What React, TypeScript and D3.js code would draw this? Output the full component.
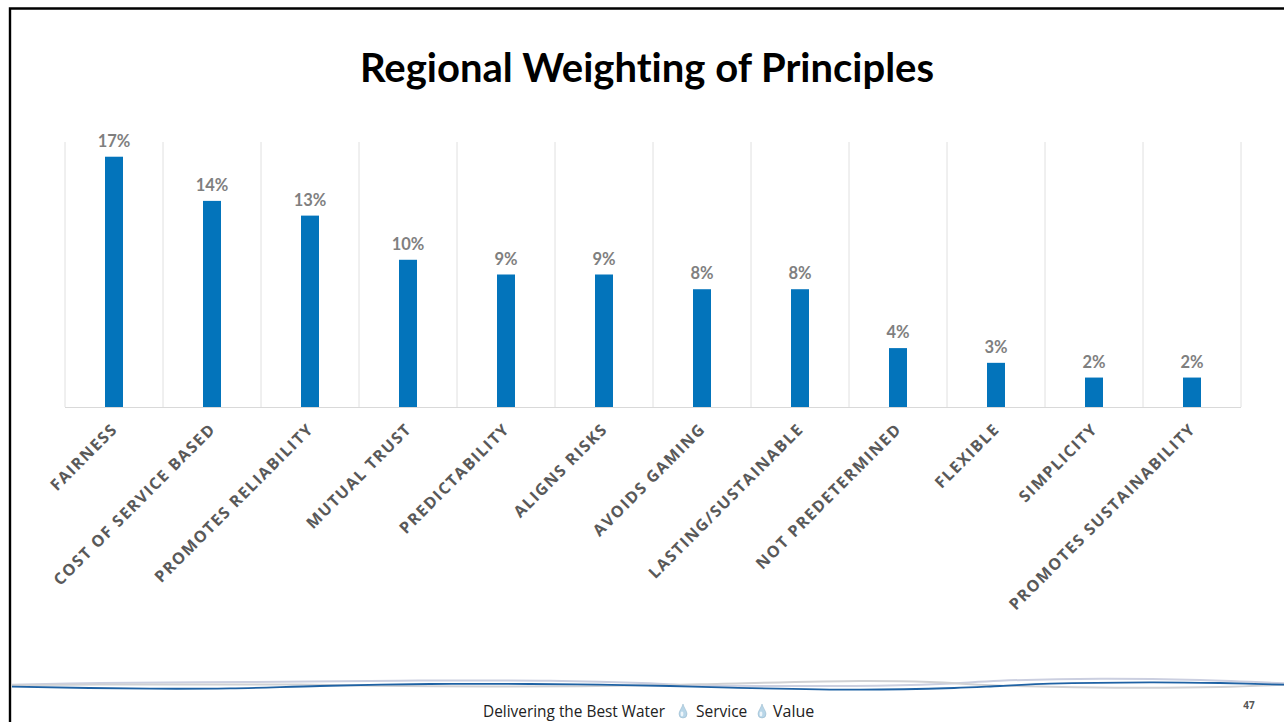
import React from "react";
import * as d3 from "d3";

const categories = ["FAIRNESS","COST OF SERVICE BASED","PROMOTES RELIABILITY","MUTUAL TRUST","PREDICTABILITY","ALIGNS RISKS","AVOIDS GAMING","LASTING/SUSTAINABLE","NOT PREDETERMINED","FLEXIBLE","SIMPLICITY","PROMOTES SUSTAINABILITY"];
const values = [17,14,13,10,9,9,8,8,4,3,2,2];
const waveBlue: [number, number][] = [[12,686.7],[150,688.7],[230,688.4],[320,686],[430,684],[530,684],[600,684.7],[670,686],[730,687.7],[860,689.7],[954,688],[1000,686],[1050,683.7],[1150,682.3],[1220,683],[1284,684.7]];
const waveUpper: [number, number][] = [[12,684.7],[100,683],[250,682],[400,680.7],[550,680.7],[650,683.3],[690,685.3],[800,686],[854,686],[940,684],[1000,680.7],[1100,678.7],[1200,680],[1284,683.3]];
const waveLower: [number, number][] = [[12,685],[100,684.6],[300,684.6],[430,686.3],[580,686.3],[650,685.3],[700,684.3],[860,681],[930,682],[990,685.3],[1050,686.7],[1130,687.7],[1220,687],[1284,684.7]];

const W = 1284, H = 722;
const x = d3.scaleBand<string>().domain(categories).range([65, 1241]);
const y = d3.scaleLinear().domain([0, 18]).range([407, 142]);
const curve = d3.line().curve(d3.curveCatmullRom);
const label = "Lato, 'Open Sans', sans-serif";

function Drop({ cx, cy }: { cx: number; cy: number }) {
  return (
    <g>
      <path
        d={`M${cx} ${cy - 7} C${cx + 1} ${cy - 3} ${cx + 4} ${cy} ${cx + 4} ${cy + 3} A4 4 0 0 1 ${cx - 4} ${cy + 3} C${cx - 4} ${cy} ${cx - 1} ${cy - 3} ${cx} ${cy - 7}Z`}
        fill="#b9d6e8"
        stroke="#8fb2c8"
        strokeWidth={0.5}
      />
      <ellipse cx={cx - 1} cy={cy + 3} rx={1.4} ry={2.4} fill="#eef6fb" />
    </g>
  );
}

export default function App() {
  return (
    <svg width={W} height={H} viewBox={`0 0 ${W} ${H}`} style={{ position: "absolute", left: 0, top: 0, background: "#fff" }}>
      <path d={`M10 ${H}V8.5H${W}`} fill="none" stroke="#000" strokeWidth={2.4} />
      <text x={647} y={82} textAnchor="middle" fontFamily={label} fontWeight={700} fontSize={40} fill="#000" style={{ fontVariantLigatures: "none" }}>Regional Weighting of Principles</text>

      {[...categories.map(c => x(c)!), 1241].map((gx, i) => (
        <line key={i} x1={gx} x2={gx} y1={142} y2={407} stroke="#e0e0e0" strokeWidth={1} />
      ))}
      <line x1={65} x2={1241} y1={407.5} y2={407.5} stroke="#d9d9d9" strokeWidth={1} />

      {categories.map((c, i) => {
        const cx = x(c)! + x.bandwidth() / 2;
        return (
          <g key={c}>
            <rect x={cx - 9} width={18} y={y(values[i])} height={407 - y(values[i])} fill="#0374bb" />
            <text x={cx} y={y(values[i]) - 10} textAnchor="middle" fontFamily={label} fontWeight={700} fontSize={16.5} fill="#7f7f7f">{values[i]}%</text>
            <text
              transform={`translate(${cx - 5},${420.5}) rotate(-45)`}
              textAnchor="end"
              dominantBaseline="hanging"
              fontFamily="'Open Sans', sans-serif"
              fontWeight={700}
              fontSize={16}
              letterSpacing={1.5}
              fill="#595959"
            >{c}</text>
          </g>
        );
      })}

      <path d={curve(waveUpper)!} fill="none" stroke="#cbcfe0" strokeWidth={2} />
      <path d={curve(waveLower)!} fill="none" stroke="#d0d1d4" strokeWidth={2} />
      <path d={curve(waveBlue)!} fill="none" stroke="#1f62a4" strokeWidth={1.8} />

      <text x={483} y={716.5} fontFamily="'Open Sans', sans-serif" fontSize={15.4} fill="#222">Delivering the Best Water</text>
      <Drop cx={683} cy={711} />
      <text x={696} y={716.5} fontFamily="'Open Sans', sans-serif" fontSize={15.5} fill="#222">Service</text>
      <Drop cx={762} cy={711} />
      <text x={773} y={716.5} fontFamily="'Open Sans', sans-serif" fontSize={16} fill="#222">Value</text>
      <text x={1249} y={709} textAnchor="middle" fontFamily="'Open Sans', sans-serif" fontWeight={700} fontSize={10} fill="#555">47</text>
    </svg>
  );
}
